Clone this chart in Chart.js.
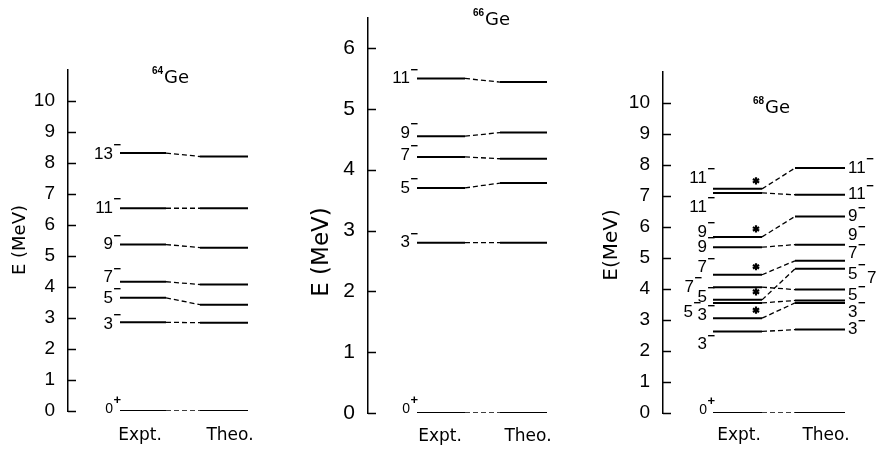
<!DOCTYPE html>
<html>
<head>
<meta charset="utf-8">
<script src="https://cdn.jsdelivr.net/npm/chart.js@4.4.1/dist/chart.umd.min.js"></script>
<style>
  body { margin: 0; background: #fff; }
  #wrap { position: relative; width: 879px; height: 450px; overflow: hidden; }
  canvas { position: absolute; top: 0; }
</style>
</head>
<body>
<div id="wrap">
  <canvas id="ge64" width="290" height="450" style="left:0px"></canvas>
  <canvas id="ge66" width="290" height="450" style="left:300px"></canvas>
  <canvas id="ge68" width="284" height="450" style="left:595px"></canvas>
</div>
<script>
// ---- data (MeV) ----
const columnNames = ['Expt.', 'Theo.'];

// 64Ge
const ge64Spins = ['0+', '3-', '5-', '7-', '9-', '11-', '13-'];
const ge64Expt  = [0, 2.86, 3.65, 4.17, 5.37, 6.54, 8.32];
const ge64Theo  = [0, 2.85, 3.43, 4.08, 5.27, 6.54, 8.21];

// 66Ge
const ge66Spins = ['0+', '3-', '5-', '7-', '9-', '11-'];
const ge66Expt  = [0, 2.80, 3.70, 4.21, 4.55, 5.50];
const ge66Theo  = [0, 2.80, 3.78, 4.18, 4.61, 5.44];

// 68Ge
const ge68Spins     = ['0+', '3-', '3-', '5-', '5-', '7-', '7-', '9-', '9-', '11-', '11-'];
const ge68Expt      = [0, 2.63, 3.06, 3.55, 3.65, 4.06, 4.46, 5.35, 5.68, 7.10, 7.23];
const ge68Theo      = [0, 2.69, 3.55, 3.63, 4.65, 3.98, 4.91, 5.43, 6.34, 7.04, 7.90];
const ge68TheoSpins = ['', '3-', '3-', '', '5-', '5-', '7-', '9-', '9-', '11-', '11-'];
const ge68Starred   = [false, false, true, false, true, false, true, false, true, false, true];

const NUM_FONT = "'Liberation Sans', Arial, sans-serif";
const TXT_FONT = "'DejaVu Sans', sans-serif";

function drawSpin(ctx, spin, x, yc, alignRight, size) {
  const num = spin.slice(0, -1);
  const sign = spin.slice(-1) === '-' ? '\u2212' : '+';
  const nsize = num === '0' ? Math.round(size * 0.85) : size;
  ctx.font = nsize + 'px ' + NUM_FONT;
  const w = ctx.measureText(num).width;
  const x0 = alignRight ? x - w : x;
  ctx.textAlign = 'left';
  ctx.textBaseline = 'middle';
  ctx.fillText(num, x0, yc);
  ctx.font = 'bold ' + Math.round(size * 0.75) + 'px ' + NUM_FONT;
  ctx.fillText(sign, x0 + w + 0.5, yc - size * 0.5);
}

function drawStar(ctx, x, y, r) {
  ctx.beginPath();
  for (let k = 0; k < 3; k++) {
    const a = Math.PI / 2 + k * Math.PI / 3;
    ctx.moveTo(x + r * Math.cos(a), y + r * Math.sin(a));
    ctx.lineTo(x - r * Math.cos(a), y - r * Math.sin(a));
  }
  ctx.lineWidth = 2.2;
  ctx.stroke();
  ctx.beginPath();
  ctx.arc(x, y, 1.8, 0, Math.PI * 2);
  ctx.fill();
}

const levelText = {
  id: 'levelText',
  afterDatasetsDraw(chart, args, o) {
    const {ctx, scales: {x, y}} = chart;
    ctx.save();
    ctx.fillStyle = '#000';
    ctx.strokeStyle = '#000';

    // inward tick marks on the energy axis
    ctx.lineWidth = 1.5;
    y.ticks.forEach(t => {
      const py = Math.round(y.getPixelForValue(t.value)) + 0.5;
      ctx.beginPath();
      ctx.moveTo(x.left, py);
      ctx.lineTo(x.left + 8, py);
      ctx.stroke();
    });

    // spin labels, experiment side
    o.spins.forEach((s, i) => {
      const n = o.leftNudge[i] || [0, 0];
      const xr = x.getPixelForValue(o.exptCol[0]) - o.gap + n[0];
      drawSpin(ctx, s, xr, y.getPixelForValue(o.expt[i]) + n[1], true, o.labelSize);
    });

    // spin labels, theory side
    if (o.theoSpins) {
      o.theoSpins.forEach((s, i) => {
        if (!s) return;
        const n = o.rightNudge[i] || [0, 0];
        const xl = x.getPixelForValue(o.theoCol[1]) + 3 + n[0];
        drawSpin(ctx, s, xl, y.getPixelForValue(o.theo[i]) + n[1], false, o.labelSize);
      });
      (o.extraRight || []).forEach(e => {
        ctx.font = o.labelSize + 'px ' + NUM_FONT;
        ctx.textAlign = 'left';
        ctx.textBaseline = 'middle';
        ctx.fillText(e.text, x.getPixelForValue(o.theoCol[1]) + e.dx, y.getPixelForValue(o.theo[e.level]) + e.dy);
      });
    }

    // asterisks
    if (o.starred) {
      o.starred.forEach((st, i) => {
        if (!st) return;
        drawStar(ctx, x.getPixelForValue(o.starX), y.getPixelForValue(o.expt[i]) - o.starDy, 3.6);
      });
    }

    // nucleus name
    ctx.textAlign = 'left';
    ctx.textBaseline = 'alphabetic';
    ctx.font = 'bold 10px ' + NUM_FONT;
    ctx.fillText(o.mass, o.titleX, o.titleY - 9);
    const mw = ctx.measureText(o.mass).width;
    ctx.font = '18px ' + TXT_FONT;
    ctx.fillText('Ge', o.titleX + mw + 1, o.titleY);

    // energy axis title
    ctx.translate(o.axisTitle.x, o.axisTitle.y);
    ctx.rotate(-Math.PI / 2);
    ctx.font = o.axisTitle.size + 'px ' + TXT_FONT;
    ctx.textAlign = 'center';
    ctx.textBaseline = 'middle';
    ctx.fillText(o.axisTitle.text, 0, 0);
    ctx.restore();
  }
};

function buildPanel(id, p) {
  const datasets = [];
  const solid = {borderColor: '#000', borderWidth: 2, pointRadius: 0, fill: false};
  const dashed = {borderColor: '#000', borderWidth: 1.3, borderDash: [5, 3], pointRadius: 0, fill: false};
  p.expt.forEach((e, i) => {
    const t = p.theo[i];
    datasets.push({...solid, data: [{x: p.exptCol[0], y: e}, {x: p.exptCol[1], y: e}]});
    datasets.push({...solid, data: [{x: p.theoCol[0], y: t}, {x: p.theoCol[1], y: t}]});
    datasets.push({...dashed, data: [{x: p.exptCol[1], y: e}, {x: p.theoCol[0], y: t}]});
  });

  return new Chart(document.getElementById(id), {
    type: 'line',
    data: {datasets},
    plugins: [levelText],
    options: {
      responsive: false,
      animation: false,
      devicePixelRatio: 1,
      events: [],
      layout: {padding: {top: p.top, right: p.right, bottom: 0, left: 0}},
      elements: {line: {tension: 0, borderCapStyle: 'butt'}},
      scales: {
        x: {
          type: 'linear', min: 0, max: p.xMax,
          grid: {display: false}, border: {display: false},
          afterFit: s => { s.height = p.xAxisH; },
          afterBuildTicks: s => { s.ticks = p.colLabelX.map(v => ({value: v})); },
          ticks: {
            autoSkip: false, maxRotation: 0, padding: p.colLabelPad, color: '#000',
            font: {family: TXT_FONT, size: 17},
            callback: (v, i) => columnNames[i]
          }
        },
        y: {
          type: 'linear', min: 0, max: p.yMax,
          grid: {display: false},
          border: {display: true, color: '#000', width: 1.5},
          afterFit: s => { s.width = 68; },
          afterBuildTicks: s => { s.ticks = s.ticks.filter(t => Number.isInteger(t.value) && t.value <= p.topTick); },
          ticks: {stepSize: 1, padding: 5, color: '#000', font: {family: NUM_FONT, size: p.tickSize}}
        }
      },
      plugins: {
        legend: {display: false},
        tooltip: {enabled: false},
        levelText: {
          spins: p.spins, expt: p.expt, theo: p.theo,
          theoSpins: p.theoSpins, rightNudge: p.rightNudge || [], extraRight: p.extraRight,
          starred: p.starred, starX: p.starX, starDy: p.starDy,
          exptCol: p.exptCol, theoCol: p.theoCol,
          leftNudge: p.leftNudge, gap: p.gap, labelSize: p.labelSize,
          mass: p.mass, titleX: p.titleX, titleY: p.titleY,
          axisTitle: p.axisTitle
        }
      }
    }
  });
}

buildPanel('ge64', {
  spins: ge64Spins, expt: ge64Expt, theo: ge64Theo, mass: '64',
  yMax: 11, topTick: 10, tickSize: 19, top: 70, right: 2, xAxisH: 39, xMax: 220,
  exptCol: [52, 98], theoCol: [132, 180], colLabelX: [72, 162], colLabelPad: 6,
  gap: 7, labelSize: 17,
  leftNudge: [[0, -2], [0, 2], [0, 0], [0, -4], [0, 0], [0, 0], [0, 1]],
  titleX: 152, titleY: 83,
  axisTitle: {text: 'E (MeV)', x: 20, y: 240, size: 18}
});

buildPanel('ge66', {
  spins: ge66Spins, expt: ge66Expt, theo: ge66Theo, mass: '66',
  yMax: 6.5, topTick: 6, tickSize: 21, top: 10, right: 2, xAxisH: 37, xMax: 220,
  exptCol: [49, 97], theoCol: [132, 179], colLabelX: [72, 160], colLabelPad: 5,
  gap: 7, labelSize: 17,
  leftNudge: [[0, -4], [0, 0], [0, 0], [0, -2], [0, -3], [0, 0]],
  titleX: 173, titleY: 25,
  axisTitle: {text: 'E (MeV)', x: 22, y: 252, size: 23}
});

buildPanel('ge68', {
  spins: ge68Spins, expt: ge68Expt, theo: ge68Theo, mass: '68',
  theoSpins: ge68TheoSpins, starred: ge68Starred, starX: 93, starDy: 8,
  yMax: 11, topTick: 10, tickSize: 19, top: 72, right: 0, xAxisH: 37, xMax: 216,
  exptCol: [50, 99], theoCol: [132, 182], colLabelX: [76, 163], colLabelPad: 4,
  gap: 6, labelSize: 17,
  leftNudge: [[0, -3], [0, 13], [0, -3], [-14, 9], [0, -3], [-13, 0], [0, -7], [0, 0], [0, -5], [0, 14], [0, -11]],
  rightNudge: [null, [0, 0], [0, 9], null, [0, 5], [0, 6], [0, -7], [0, -9], [0, 0], [0, 0], [0, 0]],
  extraRight: [{text: '7', level: 5, dx: 22, dy: -11}],
  titleX: 158, titleY: 113,
  axisTitle: {text: 'E(MeV)', x: 17, y: 245, size: 20}
});
</script>
</body>
</html>
